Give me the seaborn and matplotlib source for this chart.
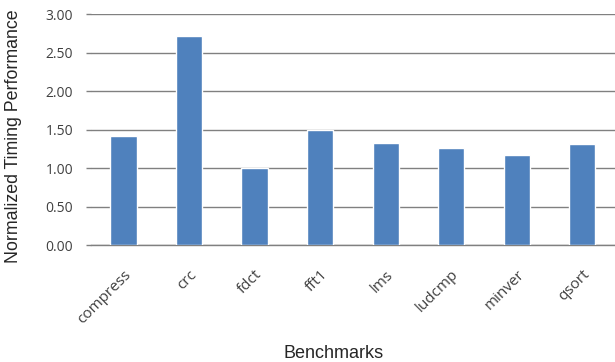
import seaborn as sns
import pandas as pd
import matplotlib.pyplot as plt

benchmarks = ["compress", "crc", "fdct", "fft1", "lms", "ludcmp", "minver", "qsort"]
timing = [1.42, 2.71, 1.00, 1.50, 1.33, 1.26, 1.17, 1.31]
y_ticks = [0.0, 0.5, 1.0, 1.5, 2.0, 2.5, 3.0]


def create_timing_bar():
    df = pd.DataFrame({"Benchmark": benchmarks, "Timing": timing})

    sns.set_style("white")
    plt.rcParams["font.family"] = ["Open Sans", "DejaVu Sans"]

    fig = plt.figure(figsize=(6.15, 3.62), dpi=100)
    ax = fig.add_axes([0.1475, 0.3232, 0.8525, 0.6381])

    sns.barplot(data=df, x="Benchmark", y="Timing", color="#4F81BD",
                saturation=1, width=0.4, ax=ax, zorder=3)

    ax.set_ylim(0, 3.0)
    ax.set_yticks(y_ticks)
    ax.set_yticklabels([f"{t:.2f}" for t in y_ticks], fontsize=10, color="#404040")
    ax.grid(axis="y", color="#808080", linewidth=1, zorder=0)
    ax.tick_params(axis="y", length=3.5, width=1, color="#808080", pad=9, left=True)

    plt.xticks(rotation=45, ha="right", rotation_mode="anchor", fontsize=11, color="#404040")
    ax.tick_params(axis="x", length=0, pad=16)

    for s in ["left", "right", "top"]:
        ax.spines[s].set_visible(False)
    ax.spines["bottom"].set_color("#808080")
    ax.spines["bottom"].set_linewidth(1)

    ax.set_ylabel("Normalized Timing Performance", fontsize=12.8, family="Liberation Sans")
    ax.set_xlabel("Benchmarks", fontsize=13, family="Liberation Sans")
    ax.yaxis.set_label_coords(-0.131, 0.472)
    ax.xaxis.set_label_coords(0.464, -0.433)

    fig.savefig("out.png", dpi=100)


create_timing_bar()
